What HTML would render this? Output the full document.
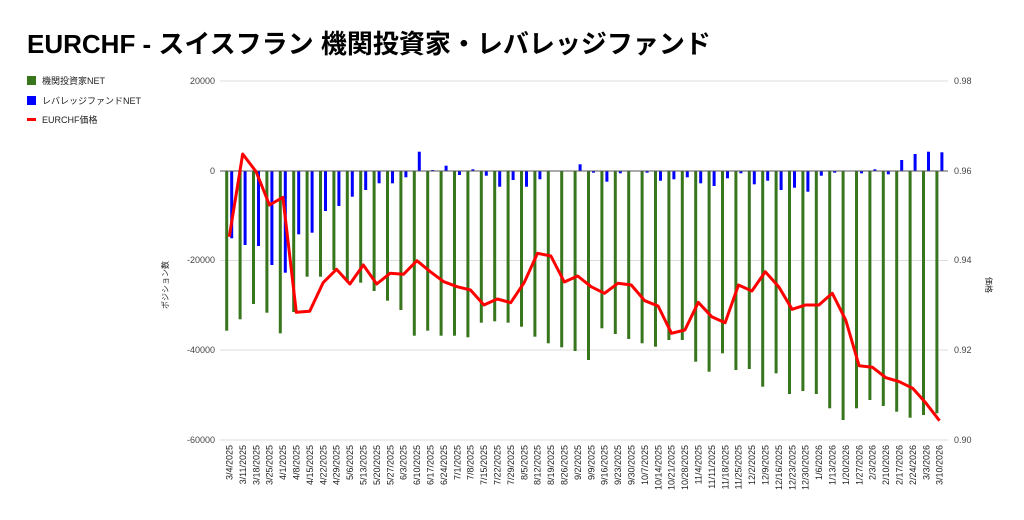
<!DOCTYPE html>
<html><head><meta charset="utf-8"><style>
body{margin:0;background:#fff;width:1024px;height:520px;overflow:hidden}
svg{display:block}
text{font-family:"Liberation Sans","Noto Sans CJK JP",sans-serif}
</style></head><body>
<svg id="s" width="1024" height="520" xmlns="http://www.w3.org/2000/svg">
<text x="27" y="53" font-size="26" font-weight="bold" fill="#000">EURCHF - スイスフラン 機関投資家・レバレッジファンド</text>
<rect x="27" y="76" width="9" height="9" fill="#38761d"/>
<text x="42" y="84" font-size="9" fill="#222">機関投資家NET</text>
<rect x="27" y="96" width="9" height="9" fill="#0000ff"/>
<text x="42" y="104" font-size="9" fill="#222">レバレッジファンドNET</text>
<rect x="27" y="118" width="9" height="3" fill="#ff0000"/>
<text x="42" y="123" font-size="9" fill="#222">EURCHF価格</text>
<g stroke="#ddd" stroke-width="1">
<line x1="220" y1="81" x2="948" y2="81"/>
<line x1="220" y1="260.5" x2="948" y2="260.5"/>
<line x1="220" y1="350" x2="948" y2="350"/>
<line x1="220" y1="440" x2="948" y2="440"/>
</g>
<g font-size="9" fill="#444" text-anchor="end">
<text x="215" y="84">20000</text>
<text x="215" y="174">0</text>
<text x="215" y="263">-20000</text>
<text x="215" y="353">-40000</text>
<text x="215" y="443">-60000</text>
</g>
<g font-size="9" fill="#444">
<text x="954" y="84">0.98</text>
<text x="954" y="174">0.96</text>
<text x="954" y="263">0.94</text>
<text x="954" y="353">0.92</text>
<text x="954" y="443">0.90</text>
</g>
<text transform="translate(168,285) rotate(-90)" font-size="8" fill="#222" text-anchor="middle">ポジション数</text>
<text transform="translate(986,285) rotate(90)" font-size="8" fill="#222" text-anchor="middle">価格</text>
<g id="bars"></g>
<line x1="220" y1="171" x2="948" y2="171" stroke="#555" stroke-width="1"/>
<polyline id="red" fill="none" stroke="#ff0000" stroke-width="3" stroke-linejoin="round"/>
<g id="labels" font-size="9" fill="#222" text-anchor="end"></g>
</svg>
<script>
var g=[330.7,319.3,304,312.7,333.3,312,276.7,276.7,270,281.7,282.7,291,300.7,310,335.7,330.7,335.7,335.7,337.3,322.7,321.3,322.7,326.7,336.7,343.3,347.3,351,360,328.3,334,339,343.3,346.7,340,340,361.7,371.7,353.3,370,369,386.7,373.3,394,391,394,408.3,420,408.3,400,406,411.7,417.7,415,413.3];
var b=[238.3,245,246,265,272.7,234.3,232.7,211,206,196.7,190,183.3,183.3,177.3,151.7,170,165.7,175,169.3,175.7,186.7,180,186.7,179.3,171,171,164.3,172.7,181.7,173.3,171,172.7,180.7,179.3,177.3,183.3,186,178.3,173.3,184.3,180.7,190,187.7,191.7,175.7,172.7,171,173.3,169.3,174.3,160,154,151.7,152.3];
var r=[236.7,154,171.7,205,197.3,312.3,311.3,282.7,269.3,284,265,284,273.3,274.3,260.7,271.7,281.7,286.7,290,305,299,302.7,282.7,253.3,256,282,276,286.7,293.3,283.3,285,300.7,306,333.3,330,302.3,316.7,322.7,285,291,271.7,286.7,309.3,305,305,293.3,320,365.7,367.3,377.7,381.7,388.3,403.3,420.7];
var ns="http://www.w3.org/2000/svg",Z=171,h="",pts=[],lb="";
function rect(x,y1,c){var t=Math.min(y1,Z),hh=Math.abs(y1-Z);if(hh<0.5)return "";return '<rect x="'+(x-1.5)+'" y="'+t+'" width="3" height="'+hh+'" fill="'+c+'"/>';}
var d=new Date(2025,2,4);
for(var i=0;i<54;i++){
 h+=rect(226.7+13.4*i,g[i],"#38761d")+rect(231.7+13.4*i,b[i],"#0000ff");
 pts.push((229.3+13.4*i).toFixed(1)+","+r[i]);
 var dd=new Date(d.getTime()+i*7*864e5);
 var s=(dd.getMonth()+1)+"/"+dd.getDate()+"/"+dd.getFullYear();
 lb+='<text transform="translate('+(232.5+13.4*i).toFixed(1)+',445) rotate(-90)">'+s+'</text>';
}
document.getElementById("bars").innerHTML=h;
document.getElementById("red").setAttribute("points",pts.join(" "));
document.getElementById("labels").innerHTML=lb;
</script>
</body></html>
